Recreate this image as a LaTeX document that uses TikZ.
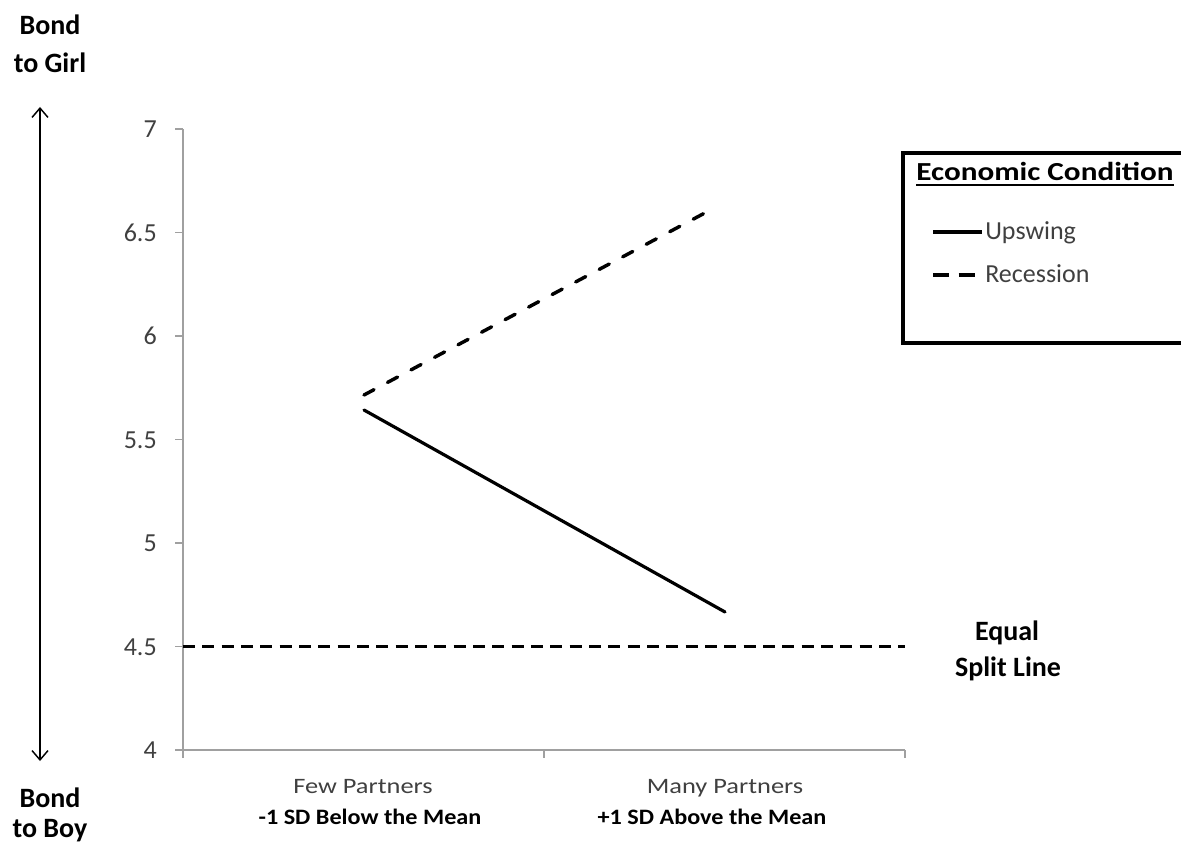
\documentclass[tikz,border=0pt]{standalone}
\usepackage{fontspec}
\setmainfont{Carlito}
\newfontfamily\catfont{Carlito}[FakeStretch=1.2]
\newfontfamily\subfont{Carlito}[FakeStretch=1.1]
\usetikzlibrary{arrows.meta}
\definecolor{axisgray}{HTML}{A0A0A0}
\definecolor{labgray}{HTML}{404040}
\tikzset{
  axisline/.style={draw=axisgray, line width=1.3pt},
  ticklab/.style={anchor=base east, inner sep=0pt, text=labgray, font=\fontsize{19.5}{24}\selectfont},
  sidelab/.style={anchor=base, inner sep=0pt, font=\fontsize{21}{25}\selectfont\bfseries},
  catlab/.style={anchor=base, inner sep=0pt, text=labgray, font=\catfont\fontsize{16.5}{20}\selectfont},
  sublab/.style={anchor=base, inner sep=0pt, font=\subfont\fontsize{16.5}{20}\selectfont\bfseries},
  legtitle/.style={anchor=base west, inner sep=0pt, font=\catfont\fontsize{19.5}{23}\selectfont\bfseries},
  legitem/.style={anchor=base west, inner sep=0pt, text=labgray, font=\fontsize{19.5}{23}\selectfont},
  upline/.style={line width=2.4pt, line cap=round},
  recline/.style={line width=2.6pt, line cap=round, dash pattern=on 8.5pt off 11.5pt},
  splitline/.style={line width=1.8pt, dash pattern=on 9pt off 5.5pt},
  bigarrow/.style={line width=1.1pt, {Straight Barb[length=7pt,width=12pt]}-{Straight Barb[length=7pt,width=12pt]}},
}
\begin{document}
\begin{tikzpicture}[x=0.75pt,y=-0.75pt]
\useasboundingbox (0,0) rectangle (1181,848);

% side arrow and labels
\coordinate (atop) at (40,107);
\coordinate (abot) at (40,761);
\draw[bigarrow] (abot) -- (atop);
\node[sidelab] (bg1) at (50,35) {Bond};
\node[sidelab] (bg2) at (50,73) {to Girl};
\node[sidelab] (bb1) at (50,807) {Bond};
\node[sidelab] (bb2) at (50,837) {to Boy};

% axes
\coordinate (o) at (183,750);
\coordinate (ytop) at (183,129);
\coordinate (xend) at (905,750);
\draw[axisline] (183,758) -- (ytop);
\draw[axisline] (o) -- (xend);
\foreach \v/\y in {7/129,6.5/232.5,6/336,5.5/439.5,5/543,4.5/646.5,4/750}{
  \draw[axisline] (175,\y) -- (183,\y);
  \node[ticklab] (t\v) at (157,\y+8.6) {\v};
}
\foreach \x in {544,905}{
  \draw[axisline] (\x,750) -- (\x,758);
}

% category labels
\node[catlab] (few) at (363,793) {Few Partners};
\node[sublab] (fewsd) at (370,824) {-1 SD Below the Mean};
\node[catlab] (many) at (725,793) {Many Partners};
\node[sublab] (manysd) at (712,824) {+1 SD Above the Mean};

% equal split line
\coordinate (es1) at (183,646.5);
\coordinate (es2) at (905,646.5);
\draw[splitline] (es1) -- (es2);
\node[sidelab] (eq1) at (1007,640) {Equal};
\node[sidelab] (eq2) at (1008,676) {Split Line};

% data series
\coordinate (u1) at (364,410);
\coordinate (u2) at (725,612);
\coordinate (r1) at (364,395);
\coordinate (r2) at (716,207);
\draw[upline] (u1) -- (u2);
\draw[recline] (r1) -- (r2);

% legend
\draw[line width=2.3pt] (1185,153) -- (903,153) -- (903,343) -- (1185,343);
\node[legtitle] (ec) at (916,181) {Economic Condition};
\draw[line width=1.5pt] ([yshift=-3.2pt]ec.base west) -- ([yshift=-3.2pt]ec.base east);
\coordinate (lu1) at (933,232);
\coordinate (lu2) at (982,232);
\draw[line width=2.4pt] (lu1) -- (lu2);
\node[legitem] (up) at (985,240) {Upswing};
\coordinate (lr1) at (933,275);
\coordinate (lr2) at (975,275);
\draw[line width=2.6pt, dash pattern=on 12.25pt off 7pt] (lr1) -- (lr2);
\node[legitem] (rec) at (985,283) {Recession};
\end{tikzpicture}
\end{document}
